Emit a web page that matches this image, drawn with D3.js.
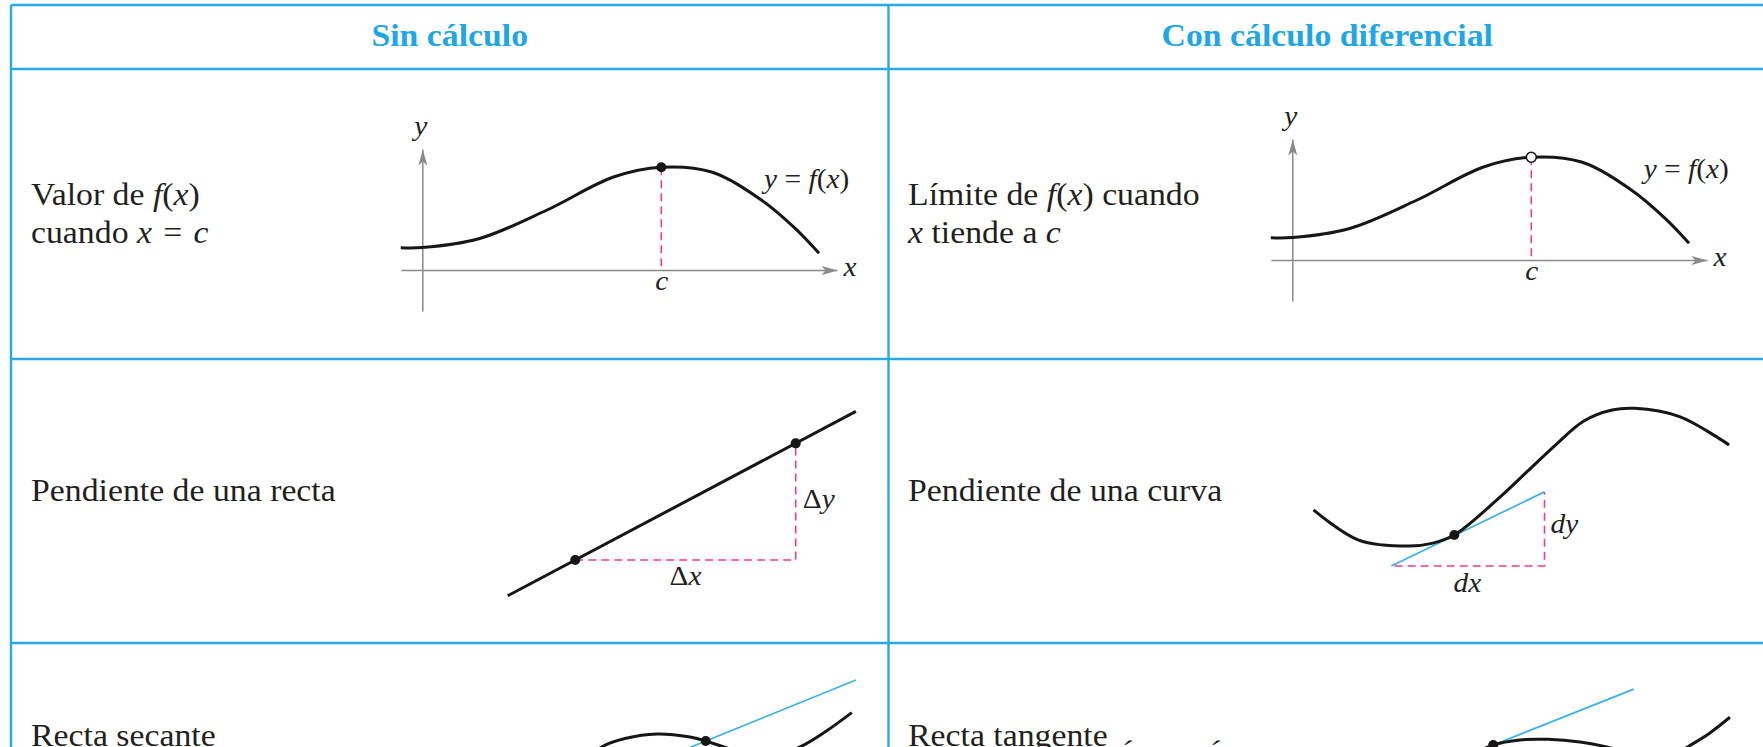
<!DOCTYPE html>
<html>
<head>
<meta charset="utf-8">
<script src="https://cdn.jsdelivr.net/npm/d3@7"></script>
<style>
  html, body { margin: 0; padding: 0; background: #fff; overflow: hidden; }
  svg { display: block; }
  text { font-family: "Liberation Serif", "Times New Roman", serif; white-space: pre; }
</style>
</head>
<body>
<svg id="tabla" width="1763" height="747"></svg>
<script>
/////////////////////////////
// Datos de la tabla       //
/////////////////////////////
const encabezados = ["Sin cálculo", "Con cálculo diferencial"];
const etiquetasSin = [["Valor de *f*(*x*)", "cuando *x*\u2004=\u2004*c*"], ["Pendiente de una recta"], ["Recta secante"]];
const etiquetasCon = [["Límite de *f*(*x*) cuando", "*x* tiende a *c*"], ["Pendiente de una curva"], ["Recta tangente"]];

// fila 1 : y = f(x), valor en c
const fX = [-0.9, 0, 2.4, 5.2, 8.0, 10, 12.1, 14.2, 15.6, 16.6];
const fY = [0.93, 0.94, 1.32, 2.5, 3.89, 4.3, 4.1, 2.92, 1.74, 0.7];
const valorC = 10;
const ejeX = [-0.9, 17.35];
const ejeY = [-1.72, 5.06];

// fila 2 : pendiente de una recta
const rectaX = [-3.06, 12.73];
const rectaY = [-1.62, 6.74];
const puntosRectaX = [0, 10];
const puntosRectaY = [0, 5.29];

// fila 2 : pendiente de una curva
const curvaX = [-6.4, -4.35, -2.05, -1.02, 0, 2.05, 3.33, 4.61, 5.89, 7.17, 8.19, 10.24, 12.49];
const curvaY = [1.14, -0.23, -0.5, -0.38, 0, 1.7, 2.9, 4.1, 5.18, 5.68, 5.76, 5.38, 4.09];
const tangenteX = [-2.86, 4.1];
const tangenteY = [-1.41, 1.96];

// fila 3 : recta secante
const secCurvaX = [-5.49, -4.73, -3.67, -2.23, -0.71, 0, 1.56, 2.92, 4.29, 5.42, 6.64];
const secCurvaY = [-0.86, -0.27, 0.11, 0.32, 0.18, 0, -0.5, -0.77, -0.27, 0.41, 1.29];
const secanteX = [-1.5, 6.83];
const secanteY = [-0.61, 2.77];

// fila 3 : recta tangente
const tanCurvaX = [-1.05, 0, 1.22, 2.49, 3.95, 5.17, 6.67, 8.04, 8.84, 9.85, 10.76];
const tanCurvaY = [-0.5, 0, 0.23, 0.26, 0.14, -0.09, -0.5, -0.59, -0.09, 0.55, 1.26];
const tanRectaX = [0, 6.39];
const tanRectaY = [0, 2.54];

/////////////////////////////
// Estilo y disposición    //
/////////////////////////////
const W = 1763, H = 747;
const bordeX = [11, 888.5];
const lineasY = [5, 69, 359, 643];
const tinta = "#231f20", negro = "#161616", cian = "#27aae4", magenta = "#ec3c95", celeste = "#39b2e8", gris = "#8a8a8a";
const estirar = 1.09;   // la fuente del original es algo más ancha

const svg = d3.select("#tabla");

// flecha de los ejes
svg.append("defs").append("marker")
  .attr("id", "flecha").attr("markerUnits", "userSpaceOnUse")
  .attr("viewBox", "0 -5 16 10").attr("refX", 16).attr("refY", 0)
  .attr("markerWidth", 16).attr("markerHeight", 10).attr("orient", "auto")
  .append("path").attr("d", "M0,-4.5L16,0L0,4.5L4,0Z").attr("fill", gris);

// texto con *cursivas*
function texto(g, str, x, y, size, opts = {}) {
  const t = g.append("text")
    .attr("transform", `translate(${x},${y}) scale(${estirar},1)`)
    .attr("font-size", size)
    .attr("text-anchor", opts.anchor || "start")
    .attr("font-weight", opts.bold ? "bold" : null)
    .style("fill", opts.color || tinta);
  str.split("*").forEach((parte, i) => {
    if (parte) t.append("tspan").text(parte).attr("font-style", i % 2 ? "italic" : null);
  });
  return t;
}

// escalas de un panel : origen en pixeles y k pixeles por unidad
function panel(ox, oy, k) {
  return {
    x: d3.scaleLinear().domain([0, 1]).range([ox, ox + k]),
    y: d3.scaleLinear().domain([0, 1]).range([oy, oy - k])
  };
}

function trazo(s, curva) {
  const l = d3.line().x(d => s.x(d[0])).y(d => s.y(d[1]));
  return curva ? l.curve(d3.curveCatmullRom.alpha(0.5)) : l;
}

function punto(g, s, px, py, abierto) {
  g.append("circle").attr("cx", s.x(px)).attr("cy", s.y(py)).attr("r", 5)
    .attr("fill", abierto ? "#fff" : negro).attr("stroke", negro).attr("stroke-width", abierto ? 1.6 : 0);
}

function discontinua(g, s, xs, ys) {
  g.append("path").attr("d", trazo(s)(d3.zip(xs, ys)))
    .attr("fill", "none").attr("stroke", magenta).attr("stroke-width", 1.6).attr("stroke-dasharray", "8,5");
}

/////////////////////////////
// Cuadrícula y encabezados //
/////////////////////////////
const rejilla = svg.append("g");
rejilla.selectAll(".h").data(lineasY).join("line")
  .attr("x1", bordeX[0]).attr("x2", W).attr("y1", d => d).attr("y2", d => d)
  .attr("stroke", cian).attr("stroke-width", 2.4);
rejilla.selectAll(".v").data(bordeX).join("line")
  .attr("x1", d => d).attr("x2", d => d).attr("y1", lineasY[0]).attr("y2", H)
  .attr("stroke", cian).attr("stroke-width", 2.4);

const centros = [(bordeX[0] + bordeX[1]) / 2, (bordeX[1] + W + 3) / 2];
encabezados.forEach((e, i) => texto(svg, e, centros[i], 46, 31, { anchor: "middle", bold: true, color: "#1ea6e6" }));

// etiquetas de filas
const baseFilas = [[205, 243], [501], [746]];
etiquetasSin.forEach((lineas, f) => lineas.forEach((l, j) => texto(svg, l, 31, baseFilas[f][j], 31)));
etiquetasCon.forEach((lineas, f) => lineas.forEach((l, j) => texto(svg, l, 908, baseFilas[f][j], 31)));

/////////////////////////////
// Fila 1 : f(x) en c      //
/////////////////////////////
function graficaF(s, abierto, xEtiqueta) {
  const g = svg.append("g");
  const ax = s.x.copy().domain(ejeX).range(ejeX.map(s.x));
  const ay = s.y.copy().domain(ejeY).range(ejeY.map(s.y));

  g.append("g").attr("transform", `translate(0,${s.y(0)})`)
    .call(d3.axisBottom(ax).tickValues([valorC]).tickFormat(() => "c").tickSize(0).tickSizeOuter(0).tickPadding(1))
    .call(a => a.select(".domain").attr("stroke", gris).attr("stroke-width", 1.5).attr("marker-end", "url(#flecha)"))
    .call(a => a.selectAll(".tick text").attr("font-size", 27).attr("font-style", "italic")
      .attr("transform", `scale(${estirar},1)`).style("fill", tinta));

  g.append("g").attr("transform", `translate(${s.x(0)},0)`)
    .call(d3.axisLeft(ay).tickValues([]).tickSizeOuter(0))
    .call(a => a.select(".domain").attr("stroke", gris).attr("stroke-width", 1.5).attr("marker-end", "url(#flecha)"));

  texto(g, "*y*", s.x(0) - 1.5, s.y(5.65), 27, { anchor: "middle" });
  texto(g, "*x*", s.x(17.9), s.y(0) + 6, 27, { anchor: "middle" });

  const fc = fY[fX.indexOf(valorC)];
  discontinua(g, s, [valorC, valorC], [fc, 0]);
  g.append("path").attr("d", trazo(s, true)(d3.zip(fX, fY)))
    .attr("fill", "none").attr("stroke", negro).attr("stroke-width", 3);
  punto(g, s, valorC, fc, abierto);
  texto(g, "*y* = *f*(*x*)", s.x(xEtiqueta), s.y(3.45), 27);
}
graficaF(panel(422.3, 270, 23.9), false, 14.3);
graficaF(panel(1292.3, 260, 23.9), true, 14.7);

/////////////////////////////
// Fila 2 : pendientes     //
/////////////////////////////
{
  const s = panel(575.2, 560, 22.05);
  const g = svg.append("g");
  discontinua(g, s, [puntosRectaX[0], puntosRectaX[1], puntosRectaX[1]], [puntosRectaY[0], puntosRectaY[0], puntosRectaY[1]]);
  g.append("path").attr("d", trazo(s)(d3.zip(rectaX, rectaY)))
    .attr("fill", "none").attr("stroke", negro).attr("stroke-width", 3);
  puntosRectaX.forEach((px, i) => punto(g, s, px, puntosRectaY[i], false));
  texto(g, "Δ*x*", s.x((puntosRectaX[0] + puntosRectaX[1]) / 2), s.y(puntosRectaY[0]) + 25, 27, { anchor: "middle" });
  texto(g, "Δ*y*", s.x(puntosRectaX[1]) + 7, s.y(puntosRectaY[1] / 2) + 6, 27);
}
{
  const s = panel(1454.3, 535, 22);
  const g = svg.append("g");
  discontinua(g, s, [tangenteX[0] + 0.15, tangenteX[1], tangenteX[1]], [tangenteY[0], tangenteY[0], tangenteY[1]]);
  g.append("path").attr("d", trazo(s)(d3.zip(tangenteX, tangenteY)))
    .attr("fill", "none").attr("stroke", celeste).attr("stroke-width", 1.7);
  g.append("path").attr("d", trazo(s, true)(d3.zip(curvaX, curvaY)))
    .attr("fill", "none").attr("stroke", negro).attr("stroke-width", 3);
  punto(g, s, 0, 0, false);
  texto(g, "*dx*", s.x(0.6), s.y(tangenteY[0]) + 26, 27, { anchor: "middle" });
  texto(g, "*dy*", s.x(tangenteX[1]) + 6, s.y((tangenteY[0] + tangenteY[1]) / 2) + 4, 27);
}

/////////////////////////////
// Fila 3 : secante y tangente //
/////////////////////////////
{
  const s = panel(705.7, 741, 22);
  const g = svg.append("g");
  g.append("path").attr("d", trazo(s)(d3.zip(secanteX, secanteY)))
    .attr("fill", "none").attr("stroke", celeste).attr("stroke-width", 1.7);
  g.append("path").attr("d", trazo(s, true)(d3.zip(secCurvaX, secCurvaY)))
    .attr("fill", "none").attr("stroke", negro).attr("stroke-width", 3);
  punto(g, s, 0, 0, false);
}
{
  const s = panel(1493.2, 745, 22);
  const g = svg.append("g");
  g.append("path").attr("d", trazo(s)(d3.zip(tanRectaX, tanRectaY)))
    .attr("fill", "none").attr("stroke", celeste).attr("stroke-width", 1.7);
  g.append("path").attr("d", trazo(s, true)(d3.zip(tanCurvaX, tanCurvaY)))
    .attr("fill", "none").attr("stroke", negro).attr("stroke-width", 3);
  punto(g, s, 0, 0, false);
}
// restos de texto cortados al pie de la imagen
texto(svg, "*´*", 1126, 762, 31, { anchor: "middle" });
texto(svg, "*´*", 1214, 762, 31, { anchor: "middle" });
</script>
</body>
</html>
